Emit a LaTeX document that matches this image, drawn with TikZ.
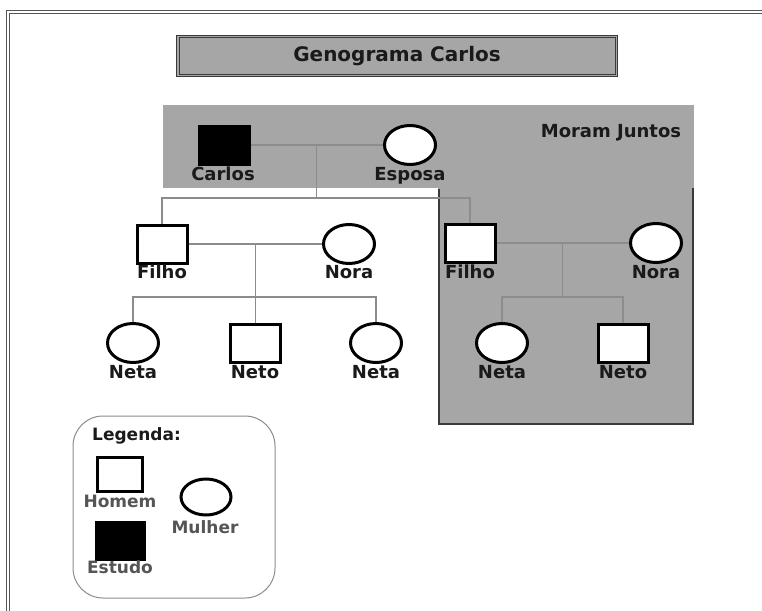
\documentclass[tikz,border=0pt]{standalone}
\usepackage{fontspec}
\setmainfont{DejaVu Sans}
\usetikzlibrary{shapes.geometric,calc}
\definecolor{fillgray}{HTML}{A6A6A6}
\definecolor{linegray}{HTML}{8C8C8C}
\definecolor{darkline}{HTML}{3A3A3A}
\definecolor{framegray}{HTML}{555555}
\definecolor{legtext}{HTML}{555555}
\definecolor{txt}{HTML}{1A1A1A}
\pgfdeclarelayer{bg}
\pgfdeclarelayer{mid}
\pgfsetlayers{bg,mid,main}
\begin{document}
\begin{tikzpicture}[x=1pt,y=-1pt,
 male/.style={draw=black, line width=3pt, fill=white, minimum width=50pt, minimum height=38pt, inner sep=0pt},
 malefill/.style={male, fill=black},
 female/.style={ellipse, draw=black, line width=3pt, fill=white, minimum width=51pt, minimum height=39pt, inner sep=0pt},
 lbl/.style={font=\bfseries\fontsize{18}{20}\selectfont, text=txt, anchor=base, inner sep=0pt},
 leglbl/.style={font=\bfseries\fontsize{17}{19}\selectfont, text=legtext, anchor=base, inner sep=0pt},
 conn/.style={draw=linegray, line width=1.3pt},
]
\useasboundingbox (0,0) rectangle (762,610);

\begin{pgfonlayer}{bg}
\fill[white] (0,0) rectangle (762,610);
% outer double frame (continues past the right and bottom edges)
\draw[framegray, line width=1pt] (6.5,612) -- (6.5,10.5) -- (764,10.5);
\draw[framegray, line width=1pt] (9.5,612) -- (9.5,13.5) -- (764,13.5);
% household area
\fill[fillgray] (163,105) rectangle (694,188);
\fill[fillgray] (438,187) rectangle (694,424);
\draw[darkline, line width=1.5pt] (439,189) -- (439,424) -- (693,424) -- (693,188);
\end{pgfonlayer}

% title
\fill[fillgray] (176,35) rectangle (618,77);
\draw[darkline, line width=1pt] (176.5,35.5) rectangle (617.5,76.5);
\draw[darkline, line width=1pt] (179,38) rectangle (615,74);
\node[font=\bfseries\fontsize{20}{22}\selectfont, text=txt, inner sep=0pt] (title) at (397,56) {Genograma Carlos};

\node[lbl] (moram) at (611,137.5) {Moram Juntos};

% people
\node[malefill] (carlos) at (224,145) {};
\node[female] (esposa) at (410,145) {};
\node[male] (filhoA) at (162,244) {};
\node[female] (noraA) at (349,244) {};
\node[female] (netaA) at (133,343) {};
\node[male] (netoA) at (255,343) {};
\node[female] (netaB) at (376,343) {};
\node[male] (filhoB) at (470,243) {};
\node[female] (noraB) at (656,243) {};
\node[female] (netaC) at (502,343) {};
\node[male] (netoC) at (623,343) {};

% labels
\node[lbl] (lcarlos) at (223,180) {Carlos};
\node[lbl] (lesposa) at (410,180) {Esposa};
\node[lbl] (lfilhoA) at (162,278.5) {Filho};
\node[lbl] (lnoraA) at (349,278.5) {Nora};
\node[lbl] (lfilhoB) at (470,278.5) {Filho};
\node[lbl] (lnoraB) at (656,278.5) {Nora};
\node[lbl] (lnetaA) at (133,378.5) {Neta};
\node[lbl] (lnetoA) at (255,378.5) {Neto};
\node[lbl] (lnetaB) at (376,378.5) {Neta};
\node[lbl] (lnetaC) at (502,378.5) {Neta};
\node[lbl] (lnetoC) at (623,378.5) {Neto};

% connectors
\coordinate (lvlA) at (0,198);
\coordinate (lvlB) at (0,297);
\begin{pgfonlayer}{mid}
\coordinate (mC) at ($(carlos.east)!0.5!(esposa.west)$);
\draw[conn] (carlos.east) -- (esposa.west);
\draw[conn] (mC) -- (mC |- lvlA);
\draw[conn] (filhoA.north) -- (filhoA |- lvlA) -- (filhoB |- lvlA) -- (filhoB.north);

\coordinate (mA) at ($(filhoA.east)!0.5!(noraA.west)$);
\draw[conn] (filhoA.east) -- (noraA.west);
\draw[conn] (mA) -- (mA |- netoA.north);
\draw[conn] (netaA.north) -- (netaA |- lvlB) -- (netaB |- lvlB) -- (netaB.north);

\coordinate (mB) at ($(filhoB.east)!0.5!(noraB.west)$);
\draw[conn] (filhoB.east) -- (noraB.west);
\draw[conn] (mB) -- (mB |- lvlB);
\draw[conn] (netaC.north) -- (netaC |- lvlB) -- (netoC |- lvlB) -- (netoC.north);
\end{pgfonlayer}

% legend
\draw[linegray, line width=1pt, rounded corners=30pt] (73,416) rectangle (275,598);
\node[font=\bfseries\fontsize{17}{19}\selectfont, text=txt, anchor=base west, inner sep=0pt] (legenda) at (92,440) {Legenda:};
\node[male, minimum width=45pt, minimum height=34pt] (lhomem) at (120,474) {};
\node[malefill, minimum width=48pt, minimum height=37pt] (lestudo) at (120,541) {};
\node[female, minimum width=50pt, minimum height=36pt] (lmulher) at (206,497) {};
\node[leglbl] (thomem) at (120,507.5) {Homem};
\node[leglbl] (testudo) at (120,573.5) {Estudo};
\node[leglbl] (tmulher) at (205,533) {Mulher};
\end{tikzpicture}
\end{document}
